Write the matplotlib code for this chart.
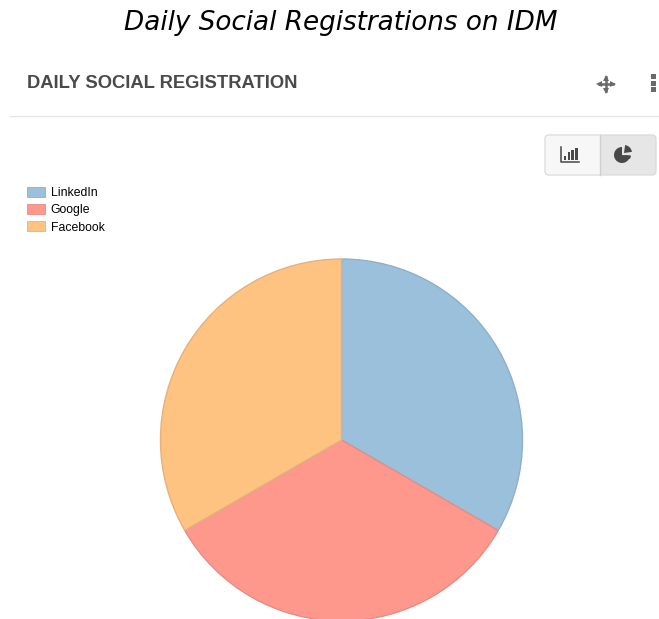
import matplotlib
matplotlib.use('Agg')
import matplotlib.pyplot as plt
from matplotlib.patches import FancyBboxPatch, Rectangle, Wedge, Patch

# Chart data
labels = ['LinkedIn', 'Google', 'Facebook']
values = [1, 1, 1]
colors = ['#9bc0db', '#fe988d', '#fec281']
edges = ['#8fb0c8', '#e48d84', '#e3b27f']

W, H = 659, 619


def py(y):
    # screenshot pixels count from the top, the axes from the bottom
    return H - y


fig = plt.figure(figsize=(W / 100, H / 100), dpi=100)
ax = fig.add_axes([0, 0, 1, 1])

# Pie, runs off the bottom edge of the picture like the screenshot
wedges, _ = ax.pie(values, colors=colors, startangle=90, counterclock=False,
                   center=(341.5, py(440)), radius=181,
                   wedgeprops={'linewidth': 1.0})
for w, e in zip(wedges, edges):
    w.set_edgecolor(e)

ax.set_xlim(0, W)
ax.set_ylim(0, H)
ax.axis('off')

# Titles
ax.text(340.5, py(22.5), 'Daily Social Registrations on IDM', style='italic',
        fontsize=18.9, ha='center', va='center', color='black', family='DejaVu Sans')
ax.text(27, py(84), 'DAILY SOCIAL REGISTRATION', fontsize=13.2, fontweight='bold',
        ha='left', va='center', color='#4a4a4a', family='Liberation Sans')
ax.plot([10, 659], [py(116), py(116)], color='#e6e6e6', lw=1.0)

# Move icon
ax.plot([599, 613], [py(84), py(84)], color='#6a6a6a', lw=1.8)
ax.plot([606, 606], [py(77), py(91)], color='#6a6a6a', lw=1.8)
for m, x, y in [('<', 599, 84), ('>', 613, 84), ('^', 606, 77.5), ('v', 606, 90.5)]:
    ax.plot(x, py(y), marker=m, ms=5, color='#6a6a6a', mew=0)

# Menu dots
for y in [76, 83, 89]:
    ax.add_patch(Rectangle((650.5, py(y) - 2.5), 5, 5, color='#6a6a6a', lw=0))

# Toggle buttons
ax.add_patch(FancyBboxPatch((546, py(174)), 55, 38, boxstyle='round,pad=0,rounding_size=3',
                            fc='#f7f7f7', ec='none'))
ax.add_patch(FancyBboxPatch((600, py(175)), 56, 40, boxstyle='round,pad=0,rounding_size=4',
                            fc='#e6e6e6', ec='none'))
ax.add_patch(FancyBboxPatch((545, py(175)), 111, 40, boxstyle='round,pad=0,rounding_size=4',
                            fc='none', ec='#dadada', lw=0.9))
ax.plot([600, 600], [py(135), py(175)], color='#cfcfcf', lw=1.0)

# Bar icon
ax.plot([561, 561, 579], [py(147), py(161.5), py(161.5)], color='#484848', lw=1.1)
for x, h in [(563.5, 4), (567.5, 8), (571, 10), (575, 12)]:
    ax.add_patch(Rectangle((x, py(160)), 2.8, h, color='#484848', lw=0))

# Pie icon
ax.add_patch(Wedge((622, py(155)), 8, 90, 355, color='#484848', lw=0))
ax.add_patch(Wedge((624, py(153)), 8, 8, 82, color='#484848', lw=0))
ax.add_patch(Wedge((624, py(155)), 7, -35, -5, color='#484848', lw=0))

# Legend
handles = [Patch(fc=c, ec=e, lw=0.6) for c, e in zip(colors, edges)]
ax.legend(handles, labels, loc='upper left', bbox_to_anchor=(27 / W, 1 - 187 / H),
          frameon=False, handlelength=1.46, handleheight=0.89,
          handletextpad=0.49, labelspacing=0.4, borderpad=0, borderaxespad=0,
          prop={'family': 'Liberation Sans', 'size': 8.8})

fig.savefig('out.png', dpi=100)
